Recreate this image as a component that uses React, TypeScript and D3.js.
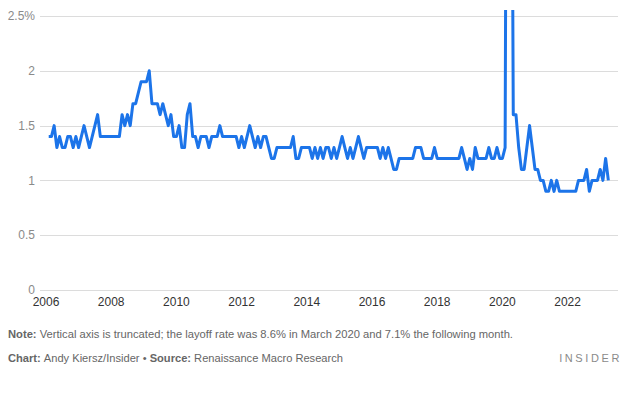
import React, { useEffect, useRef } from "react";
import * as d3 from "d3";

// Monthly layoff rate (%), first value is February 2006
const firstYear = 2006;
const firstMonth = 1; // 0 = January
const rate2006 = [1.4, 1.4, 1.5, 1.3, 1.4, 1.3, 1.3, 1.4, 1.4, 1.3, 1.4];
const rate2007 = [1.3, 1.4, 1.5, 1.4, 1.3, 1.4, 1.5, 1.6, 1.4, 1.4, 1.4, 1.4];
const rate2008 = [1.4, 1.4, 1.4, 1.4, 1.6, 1.5, 1.6, 1.5, 1.7, 1.7, 1.8, 1.9];
const rate2009 = [1.9, 1.9, 2.0, 1.7, 1.7, 1.7, 1.6, 1.7, 1.6, 1.5, 1.6, 1.4];
const rate2010 = [1.4, 1.5, 1.3, 1.3, 1.6, 1.7, 1.4, 1.4, 1.3, 1.4, 1.4, 1.4];
const rate2011 = [1.3, 1.4, 1.4, 1.4, 1.5, 1.4, 1.4, 1.4, 1.4, 1.4, 1.4, 1.3];
const rate2012 = [1.4, 1.3, 1.4, 1.5, 1.4, 1.3, 1.4, 1.3, 1.4, 1.4, 1.3, 1.2];
const rate2013 = [1.2, 1.3, 1.3, 1.3, 1.3, 1.3, 1.3, 1.4, 1.2, 1.2, 1.3, 1.3];
const rate2014 = [1.3, 1.3, 1.2, 1.3, 1.2, 1.3, 1.2, 1.3, 1.3, 1.2, 1.3, 1.2];
const rate2015 = [1.3, 1.4, 1.3, 1.2, 1.3, 1.2, 1.3, 1.4, 1.3, 1.2, 1.3, 1.3];
const rate2016 = [1.3, 1.3, 1.3, 1.2, 1.3, 1.2, 1.3, 1.2, 1.1, 1.1, 1.2, 1.2];
const rate2017 = [1.2, 1.2, 1.2, 1.2, 1.3, 1.3, 1.3, 1.2, 1.2, 1.2, 1.2, 1.3];
const rate2018 = [1.2, 1.2, 1.2, 1.2, 1.2, 1.2, 1.2, 1.2, 1.2, 1.3, 1.2, 1.1];
const rate2019 = [1.2, 1.1, 1.3, 1.2, 1.2, 1.2, 1.2, 1.3, 1.2, 1.2, 1.3, 1.2];
const rate2020 = [1.2, 1.3, 8.6, 7.1, 1.6, 1.6, 1.3, 1.1, 1.1, 1.3, 1.5, 1.3];
const rate2021 = [1.1, 1.1, 1.0, 1.0, 0.9, 0.9, 1.0, 0.9, 1.0, 0.9, 0.9, 0.9];
const rate2022 = [0.9, 0.9, 0.9, 0.9, 1.0, 1.0, 1.0, 1.1, 0.9, 1.0, 1.0, 1.0];
const rate2023 = [1.1, 1.0, 1.2, 1.0];

const layoffRate = [
  ...rate2006, ...rate2007, ...rate2008, ...rate2009, ...rate2010, ...rate2011,
  ...rate2012, ...rate2013, ...rate2014, ...rate2015, ...rate2016, ...rate2017,
  ...rate2018, ...rate2019, ...rate2020, ...rate2021, ...rate2022, ...rate2023,
];

const yTicks = [0, 0.5, 1, 1.5, 2, 2.5];
const xTicks = [2006, 2008, 2010, 2012, 2014, 2016, 2018, 2020, 2022];

const App = () => {
  const svgRef = useRef<SVGSVGElement>(null);

  useEffect(() => {
    const width = 640;
    const height = 394;
    const font = "'Liberation Sans', Arial, sans-serif";

    const svg = d3.select(svgRef.current);
    svg.selectAll("*").remove();
    svg.attr("width", width).attr("height", height);

    const x = d3.scaleLinear().domain([2006, 2024]).range([46, 46 + 18 * 32.6]);
    const y = d3.scaleLinear().domain([0, 2.5]).range([290, 16]);

    const data = layoffRate.map((v, i) => ({
      t: firstYear + (firstMonth + i) / 12,
      v,
    }));

    // grid lines
    svg
      .append("g")
      .selectAll("line")
      .data(yTicks)
      .join("line")
      .attr("x1", 40)
      .attr("x2", 618)
      .attr("y1", (d) => Math.round(y(d)) + 0.5)
      .attr("y2", (d) => Math.round(y(d)) + 0.5)
      .attr("stroke", "#dcdcdc")
      .attr("stroke-width", 1);

    // y labels
    svg
      .append("g")
      .selectAll("text")
      .data(yTicks)
      .join("text")
      .attr("x", 35)
      .attr("y", (d) => y(d))
      .attr("dy", "0.35em")
      .attr("text-anchor", "end")
      .attr("font-family", font)
      .attr("font-size", 12)
      .attr("fill", "#8a8a8a")
      .text((d) => (d === 2.5 ? "2.5%" : String(d)));

    // x labels
    svg
      .append("g")
      .selectAll("text")
      .data(xTicks)
      .join("text")
      .attr("x", (d) => x(d))
      .attr("y", 306)
      .attr("text-anchor", "middle")
      .attr("font-family", font)
      .attr("font-size", 12)
      .attr("fill", "#333")
      .text((d) => String(d));

    // clip the spike at the top
    svg
      .append("clipPath")
      .attr("id", "plot-clip")
      .append("rect")
      .attr("x", 0)
      .attr("y", 10)
      .attr("width", width)
      .attr("height", 290);

    const line = d3
      .line<{ t: number; v: number }>()
      .x((d) => x(d.t))
      .y((d) => y(d.v));

    svg
      .append("path")
      .datum(data)
      .attr("clip-path", "url(#plot-clip)")
      .attr("fill", "none")
      .attr("stroke", "#1c74e9")
      .attr("stroke-width", 3)
      .attr("stroke-linejoin", "round")
      .attr("d", line);

    // footnotes
    const note = svg
      .append("text")
      .attr("x", 8)
      .attr("y", 338)
      .attr("font-family", font)
      .attr("font-size", 11)
      .attr("fill", "#666")
      .attr("textLength", 505)
      .attr("lengthAdjust", "spacingAndGlyphs");
    note.append("tspan").attr("font-weight", "bold").text("Note: ");
    note
      .append("tspan")
      .text(
        "Vertical axis is truncated; the layoff rate was 8.6% in March 2020 and 7.1% the following month."
      );

    const credit = svg
      .append("text")
      .attr("x", 8)
      .attr("y", 362)
      .attr("font-family", font)
      .attr("font-size", 11)
      .attr("fill", "#666")
      .attr("textLength", 335)
      .attr("lengthAdjust", "spacingAndGlyphs");
    credit.append("tspan").attr("font-weight", "bold").text("Chart: ");
    credit.append("tspan").text("Andy Kiersz/Insider • ");
    credit.append("tspan").attr("font-weight", "bold").text("Source: ");
    credit.append("tspan").text("Renaissance Macro Research");

    svg
      .append("text")
      .attr("x", 622)
      .attr("y", 362)
      .attr("text-anchor", "end")
      .attr("font-family", font)
      .attr("font-size", 11)
      .attr("letter-spacing", 2.6)
      .attr("fill", "#8a8a8a")
      .text("INSIDER");
  }, []);

  return (
    <div style={{ position: "absolute", left: 0, top: 0 }}>
      <svg ref={svgRef}></svg>
    </div>
  );
};

export default App;
